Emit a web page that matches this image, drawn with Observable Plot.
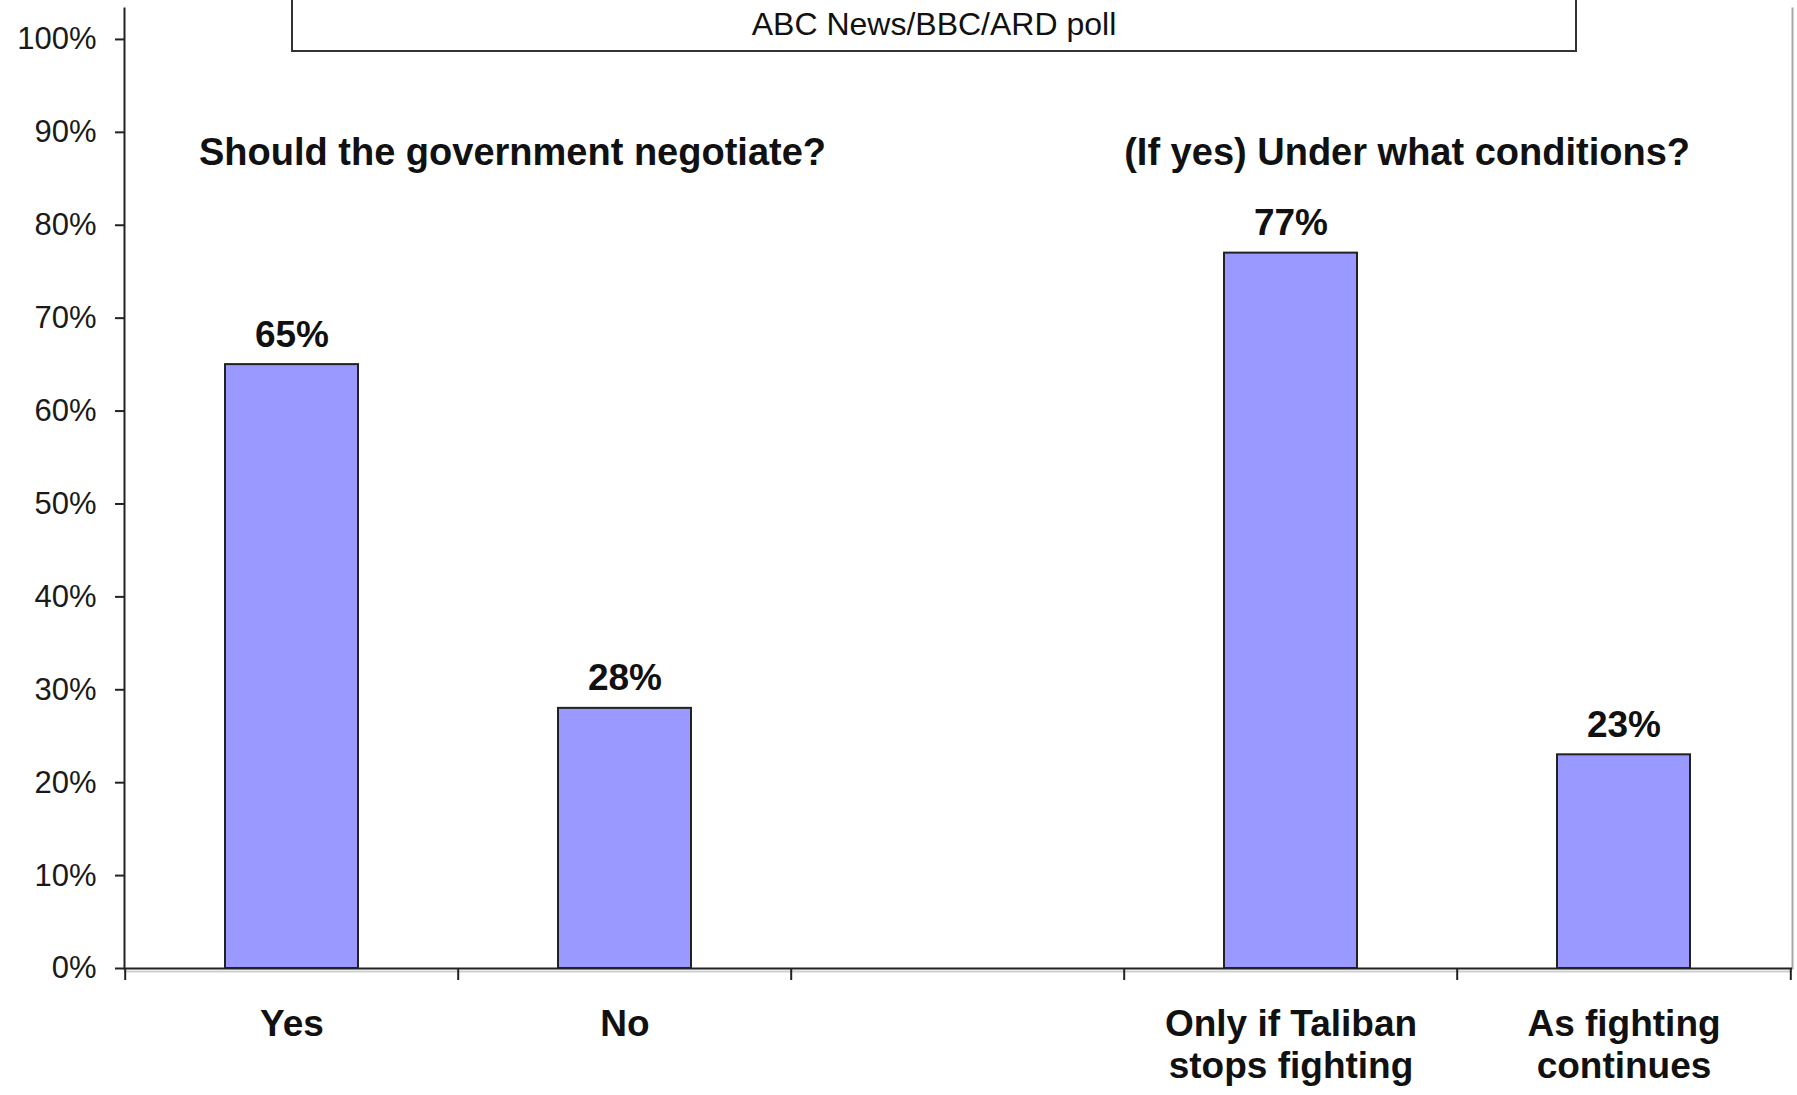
<!DOCTYPE html>
<html><head><meta charset="utf-8">
<script src="https://cdn.jsdelivr.net/npm/d3@7"></script>
<script src="https://cdn.jsdelivr.net/npm/@observablehq/plot@0.6"></script>
<style>
html,body{margin:0;padding:0;background:#fff;}
#wrap{position:relative;width:1797px;height:1095px;overflow:hidden;font-family:"Liberation Sans",Arial,sans-serif;}
#box{position:absolute;left:291px;top:-10px;width:1286px;height:62px;box-sizing:border-box;border:2px solid #333;background:#fff;}
#sub{position:absolute;left:291px;width:1286px;top:9px;text-align:center;font-size:32px;line-height:31px;color:#111;}
</style></head>
<body><div id="wrap"><div id="chart"></div><div id="box"></div><div id="sub">ABC News/BBC/ARD poll</div></div>
<script>
// ---- data ----
const categories = ["yes", "no", "gap", "only", "as"];
const categoryLabels = ["Yes", "No", "", "Only if Taliban\nstops fighting", "As fighting\ncontinues"];
const barCategories = ["yes", "no", "only", "as"];
const barValues = [65, 28, 77, 23];
const yTicks = [0, 10, 20, 30, 40, 50, 60, 70, 80, 90, 100];
const leftHeading = ["Should the government negotiate?"];
const rightHeading = ["(If yes) Under what conditions?"];
const subtitle = "ABC News/BBC/ARD poll";

document.getElementById("sub").textContent = subtitle;

const rows = barCategories.map((c, i) => ({cat: c, value: barValues[i]}));
const labelOf = new Map(categories.map((c, i) => [c, categoryLabels[i]]));

const W = 1797, H = 1095;
const mL = 124, mR = 5, mT = 8, mB = 127;
const step = (W - mL - mR) / categories.length;

const chart = Plot.plot({
  width: W,
  height: H,
  marginLeft: mL,
  marginRight: mR,
  marginTop: mT,
  marginBottom: mB,
  style: {background: "#fff", fontFamily: "'Liberation Sans', Arial, sans-serif", color: "#111", overflow: "visible"},
  x: {type: "band", domain: categories, paddingInner: 0.6, paddingOuter: 0.3, axis: null, label: null},
  y: {domain: [0, 103.33], axis: null, label: null},
  marks: [
    // right border
    Plot.frame({anchor: "right", stroke: "#a8a8a8", strokeWidth: 2}),
    // bars
    Plot.barY(rows, {x: "cat", y: "value", fill: "#9999ff", stroke: "#222", strokeWidth: 2}),
    // value labels
    Plot.text(rows, {x: "cat", y: "value", text: d => d.value + "%", lineAnchor: "bottom", dy: -18,
      fontSize: 37, fontWeight: "bold", fill: "#111"}),
    // y axis
    Plot.axisY({ticks: yTicks, tickFormat: d => d + "%", tickSize: 9, tickPadding: 19, fontSize: 31,
      stroke: "#222", strokeWidth: 2, fill: "#1a1a1a", label: null}),
    Plot.frame({anchor: "left", stroke: "#222", strokeWidth: 2}),
    // x axis shadow + line
    Plot.ruleY([0], {stroke: "#cfcfcf", strokeWidth: 2, dy: 3}),
    Plot.ruleY([0], {stroke: "#222", strokeWidth: 2}),
    // x tick marks at band boundaries
    Plot.axisX({ticks: categories, tickSize: 12, tickFormat: () => "", dx: -step / 2, stroke: "#222", strokeWidth: 2, label: null}),
    Plot.axisX({ticks: categories.slice(-1), tickSize: 12, tickFormat: () => "", dx: step / 2, stroke: "#222", strokeWidth: 2, label: null}),
    // x labels
    Plot.axisX({ticks: categories, tickSize: 0, tickPadding: 38, tickFormat: d => labelOf.get(d),
      fontSize: 37, fontWeight: "bold", lineHeight: 1.13, fill: "#111", label: null}),
    // panel headings
    Plot.text(leftHeading, {x: () => "yes", text: d => d, frameAnchor: "top", dy: 156, dx: -93,
      textAnchor: "start", lineAnchor: "bottom", fontSize: 38, fontWeight: "bold", fill: "#111"}),
    Plot.text(rightHeading, {x: () => "only", text: d => d, frameAnchor: "top", dy: 156, dx: -step / 2,
      textAnchor: "start", lineAnchor: "bottom", fontSize: 38, fontWeight: "bold", fill: "#111"})
  ]
});
document.getElementById("chart").appendChild(chart);
</script>
</body></html>
